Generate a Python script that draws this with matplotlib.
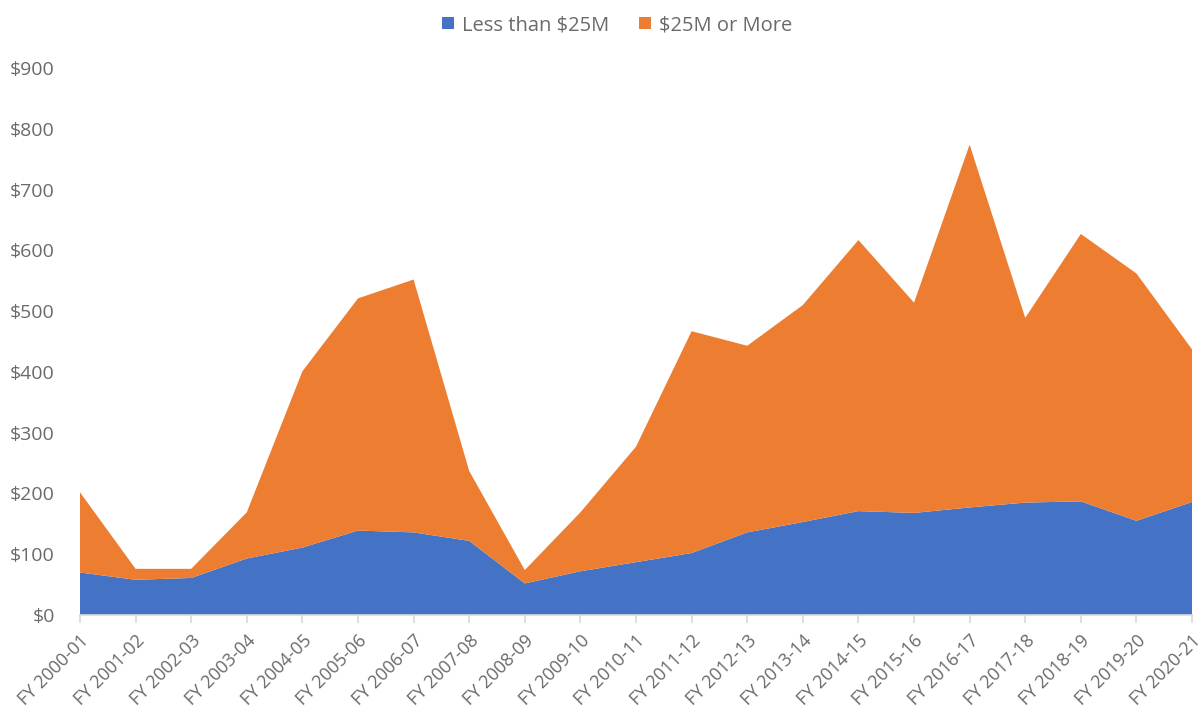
import numpy as np
import matplotlib.pyplot as plt

plt.rcParams['font.family'] = ['Open Sans', 'DejaVu Sans']

years = ["FY 2000-01", "FY 2001-02", "FY 2002-03", "FY 2003-04", "FY 2004-05",
         "FY 2005-06", "FY 2006-07", "FY 2007-08", "FY 2008-09", "FY 2009-10",
         "FY 2010-11", "FY 2011-12", "FY 2012-13", "FY 2013-14", "FY 2014-15",
         "FY 2015-16", "FY 2016-17", "FY 2017-18", "FY 2018-19", "FY 2019-20",
         "FY 2020-21"]

# totalen per jaar en het deel onder $25M
less_25m = [70, 58, 61, 93, 111, 139, 136, 122, 52, 72,
            87, 102, 136, 153, 171, 168, 177, 185, 187, 155, 186]
total = [202, 76, 76, 169, 401, 521, 552, 237, 74, 169,
         277, 467, 443, 510, 617, 514, 774, 489, 627, 562, 437]
more_25m = [t - l for t, l in zip(total, less_25m)]

blue = '#4472C4'
orange = '#ED7D31'
grey = '#6A6A6A'

fig = plt.figure(figsize=(11.99, 7.13), dpi=100)
ax = fig.add_axes([0.0667, 0.1374, 0.9275, 0.7672])

x = np.arange(len(years))
ax.stackplot(x, less_25m, more_25m, colors=[blue, orange],
             labels=["Less than $25M", "$25M or More"], linewidth=0)

ax.set_xlim(0, len(years) - 1)
ax.set_ylim(0, 900)
ax.set_yticks(range(0, 1000, 100))
ax.set_yticklabels([f"${v}" for v in range(0, 1000, 100)])
ax.set_xticks(x)
ax.set_xticklabels(years, rotation=45, ha='right', rotation_mode='anchor')

for s in ['top', 'right', 'left']:
    ax.spines[s].set_visible(False)
ax.spines['bottom'].set_color('#D9D9D9')
ax.spines['bottom'].set_linewidth(1.2)
ax.tick_params(axis='x', colors='#D9D9D9', length=6, width=1.2, pad=6,
               labelcolor=grey, labelsize=13)
ax.tick_params(axis='y', length=0, pad=18, labelcolor=grey, labelsize=14)

ax.legend(loc='upper center', bbox_to_anchor=(0.483, 1.13), ncol=2,
          frameon=False, fontsize=14.5, labelcolor=grey, handlelength=0.6,
          handleheight=0.6, handletextpad=0.4, columnspacing=1.45)

fig.savefig("out.png", dpi=100)
